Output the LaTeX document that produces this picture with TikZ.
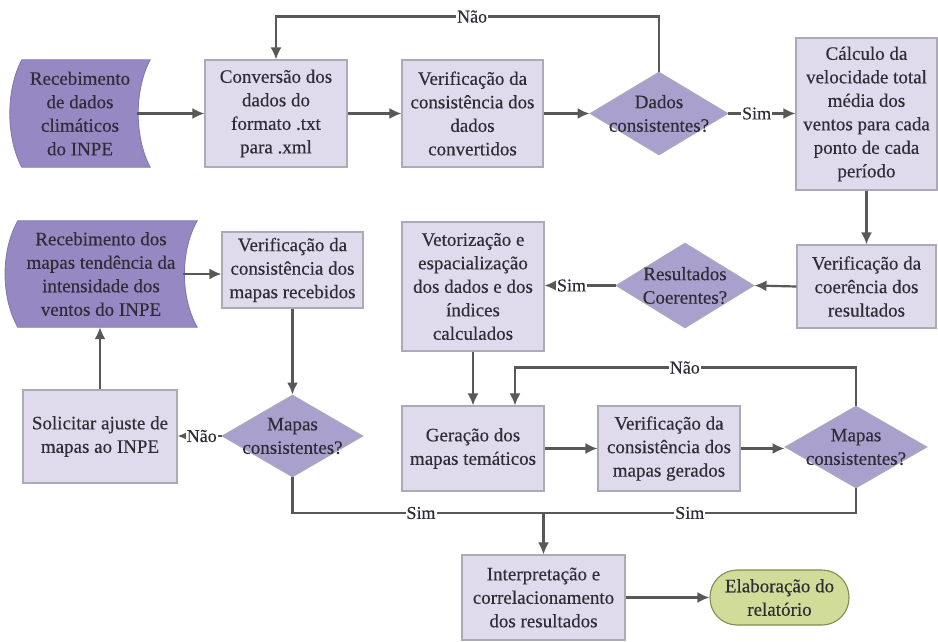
\documentclass[tikz,border=0pt]{standalone}
\usepackage{fontspec}
\setmainfont{LiberationSerif}[Extension=.ttf, UprightFont=*-Regular, BoldFont=*-Bold, ItalicFont=*-Italic, BoldItalicFont=*-BoldItalic, FakeBold=0.3]
\newfontfamily\heavyserif{LiberationSerif}[Extension=.ttf, UprightFont=*-Regular, BoldFont=*-Bold, UprightFeatures={FakeBold=0.35}]
\usetikzlibrary{shapes.geometric,arrows.meta,calc,backgrounds}
\definecolor{boxfill}{RGB}{224,219,236}
\definecolor{boxline}{RGB}{172,170,182}
\definecolor{decfill}{RGB}{170,160,206}
\definecolor{storefill}{RGB}{150,136,194}
\definecolor{storeline}{RGB}{128,116,174}
\definecolor{endfill}{RGB}{208,220,152}
\definecolor{endline}{RGB}{128,142,80}
\definecolor{txt}{RGB}{48,44,54}
\definecolor{conn}{RGB}{88,88,88}
\tikzset{
  base/.style={font=\heavyserif\fontsize{19}{23.5}\selectfont, text=txt, align=center, inner sep=0pt},
  proc/.style={base, draw=boxline, line width=1.1pt, fill=boxfill},
  dec/.style={diamond, draw=boxline, line width=0.9pt, fill=decfill, inner sep=0pt},
  endbox/.style={base, draw=endline, line width=1.1pt, fill=endfill, rounded corners=27pt},
  store/.style={fill=storefill, draw=storeline, line width=0.8pt},
  conline/.style={draw=conn, line width=2.2pt},
  arr/.style={conline, -{Latex[length=12pt,width=11pt]}},
  lbl/.style={font=\heavyserif\fontsize{18}{20}\selectfont, text=txt, fill=white, inner sep=1pt}
}
\begin{document}
\begin{tikzpicture}[x=1pt,y=-1pt]
\useasboundingbox (0,0) rectangle (938,642);

% row 1
\node[base, minimum width=140, minimum height=107] (s1) at (80,113.5)
  {Recebimento\\de dados\\climáticos\\do INPE};
\node[proc, minimum width=142, minimum height=107] (b2) at (276,113.5)
  {Conversão dos\\dados do\\formato .txt\\para .xml};
\node[proc, minimum width=141, minimum height=107] (b3) at (472.5,113.5)
  {Verificação da\\consistência dos\\dados\\convertidos};
\node[dec, minimum width=138, minimum height=83,
  label={[base]center:{Dados\\consistentes?}}] (d4) at (659,113.5) {};
\node[proc, minimum width=141, minimum height=152] (b5) at (866.5,114)
  {Cálculo da\\velocidade total\\média dos\\ventos para cada\\ponto de cada\\período};

% row 2
\node[base, minimum width=192, minimum height=106] (s6) at (101,274)
  {Recebimento dos\\mapas tendência da\\intensidade dos\\ventos do INPE};
\node[proc, minimum width=141, minimum height=76] (b7) at (292.5,270)
  {Verificação da\\consistência dos\\mapas recebidos};
\node[proc, minimum width=142, minimum height=129] (b8) at (473,286.5)
  {Vetorização e\\espacialização\\dos dados e dos\\índices\\calculados};
\node[dec, minimum width=138, minimum height=85,
  label={[base]center:{Resultados\\Coerentes?}}] (d9) at (685,285.5) {};
\node[proc, minimum width=139, minimum height=83] (b10) at (866.5,286.5)
  {Verificação da\\coerência dos\\resultados};

% row 3
\node[proc, minimum width=154, minimum height=93] (b11) at (100,436.5)
  {Solicitar ajuste de\\mapas ao INPE};
\node[dec, minimum width=141, minimum height=82,
  label={[base]center:{Mapas\\consistentes?}}] (d12) at (292.5,436) {};
\node[proc, minimum width=142, minimum height=85] (b13) at (473,448.5)
  {Geração dos\\mapas temáticos};
\node[proc, minimum width=142, minimum height=85] (b14) at (669,448.5)
  {Verificação da\\consistência dos\\mapas gerados};
\node[dec, minimum width=142, minimum height=82,
  label={[base]center:{Mapas\\consistentes?}}] (d15) at (856,447) {};

% row 4
\node[proc, minimum width=163, minimum height=85] (b16) at (543.5,597.5)
  {Interpretação e\\correlacionamento\\dos resultados};
\node[endbox, minimum width=139, minimum height=55] (e17) at (779.5,597.5)
  {Elaboração do\\relatório};

% background and stored-data shapes
\begin{scope}[on background layer]
\fill[white] (0,0) rectangle (938,642);
\path[store] ($(s1.north west)+(12,0)$) -- (s1.north east)
  .. controls ($(s1.north east)+(-16,30)$) and ($(s1.south east)+(-16,-30)$) .. (s1.south east)
  -- ($(s1.south west)+(12,0)$)
  .. controls ($(s1.south west)+(-4,-30)$) and ($(s1.north west)+(-4,30)$) .. cycle;
\path[store] ($(s6.north west)+(13,0)$) -- (s6.north east)
  .. controls ($(s6.north east)+(-17,30)$) and ($(s6.south east)+(-17,-30)$) .. (s6.south east)
  -- ($(s6.south west)+(13,0)$)
  .. controls ($(s6.south west)+(-4,-30)$) and ($(s6.north west)+(-4,30)$) .. cycle;
\end{scope}

% connectors
\draw[arr] ($(s1.east)+(-13,0)$) -- (b2.west);
\draw[arr] (b2.east) -- (b3.west);
\draw[arr] (b3.east) -- (d4.west);
\draw[arr] (d4.east) -- node[lbl,pos=0.42]{Sim} (b5.west |- d4.east);
\draw[arr] (d4.north) -- ++(0,-55) -| node[lbl,pos=0.244]{Não} (b2.north);
\draw[arr] (b5.south) -- (b10.north);
\draw[arr] (b10.west) -- (d9.east);
\draw[arr] (d9.west) -- node[lbl,pos=0.62]{Sim} (b8.east |- d9.west);
\draw[arr] ($(s6.east)+(-14,0)$) -- (s6.east -| b7.west);
\draw[arr] (b7.south) -- (d12.north);
\draw[arr] (d12.west) -- node[lbl,pos=0.45]{Não} (b11.east |- d12.west);
\draw[arr] (b11.north) -- (b11.north |- s6.south);
\draw[arr] (b8.south) -- (b13.north);
\draw[arr] (d15.north) -- ++(0,-38) -| node[lbl,pos=0.251]{Não} ($(b13.north)+(42,0)$);
\draw[arr] (b13.east) -- (b14.west);
\draw[arr] (b14.east) -- (d15.west |- b14.east);
\coordinate (m) at (543.5,513);
\draw[conline] (d12.south) |- node[lbl,pos=0.756]{Sim} (m);
\draw[conline] (d15.south) |- node[lbl,pos=0.766]{Sim} (m);
\draw[arr] (m) -- (b16.north);
\draw[arr] (b16.east) -- (e17.west);
\end{tikzpicture}
\end{document}
